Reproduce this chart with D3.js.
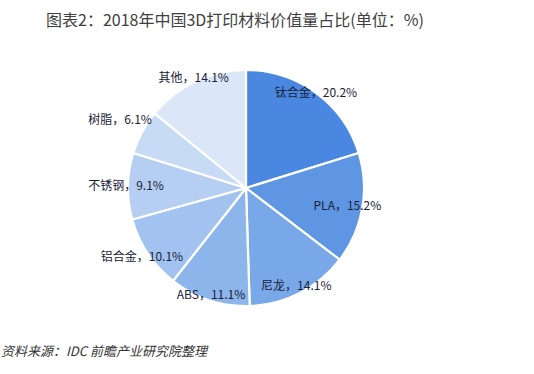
<!DOCTYPE html>
<html><head><meta charset="utf-8">
<script src="https://cdn.jsdelivr.net/npm/d3@7/dist/d3.min.js"></script>
<style>
html,body{margin:0;padding:0;background:#fff;}
svg{display:block;}
</style></head>
<body>
<svg id="c" width="534" height="374"></svg>
<script>
const categories = ["钛合金","PLA","尼龙","ABS","铝合金","不锈钢","树脂","其他"];
const values = [20.2, 15.2, 14.1, 11.1, 10.1, 9.1, 6.1, 14.1];
const colors = ["#4a87e0","#5f96e3","#79a8e9","#8cb5ec","#a2c2ef","#b5cef2","#c8dbf5","#dbe7f8"];
const labelRadius = [118, 103, 110, 112, 125, 120, 143, 122];
const titleText = "图表2：2018年中国3D打印材料价值量占比(单位：%)";
const sourceText = "资料来源：IDC 前瞻产业研究院整理";

const svg = d3.select("#c");
const cx = 246, cy = 188, R = 118;
const g = svg.append("g").attr("transform", `translate(${cx},${cy})`);

const data = categories.map((c,i)=>({name:c, value:values[i], i}));
const pie = d3.pie().value(d=>d.value).sort(null);
const arcs = pie(data);
const arc = d3.arc().innerRadius(0).outerRadius(R);

g.selectAll("path").data(arcs).join("path")
  .attr("d", arc)
  .attr("fill", d=>colors[d.data.i])
  .attr("stroke", "#fff")
  .attr("stroke-width", 2.2)
  .attr("stroke-linejoin", "round");

g.selectAll("text.lbl").data(arcs).join("text")
  .attr("class","lbl")
  .attr("transform", d=>{
    const a = (d.startAngle + d.endAngle)/2;
    const r = labelRadius[d.data.i];
    return `translate(${Math.sin(a)*r},${-Math.cos(a)*r})`;
  })
  .attr("text-anchor","middle")
  .attr("dy","0.35em")
  .attr("font-family","'Noto Sans CJK SC', sans-serif")
  .attr("font-size", 12)
  .attr("fill","#1a2238")
  .text(d=>`${d.data.name}，${d.data.value.toFixed(1)}%`);

svg.append("text")
  .attr("x", 46).attr("y", 26)
  .attr("font-family","'Noto Sans CJK SC', sans-serif")
  .attr("font-size", 16)
  .attr("fill","#404040")
  .text(titleText);

svg.append("text")
  .attr("x", 1).attr("y", 356)
  .attr("font-family","'Noto Sans CJK SC', sans-serif")
  .attr("font-size", 13)
  .attr("font-style","italic")
  .attr("fill","#333")
  .text(sourceText);
</script>
</body></html>
